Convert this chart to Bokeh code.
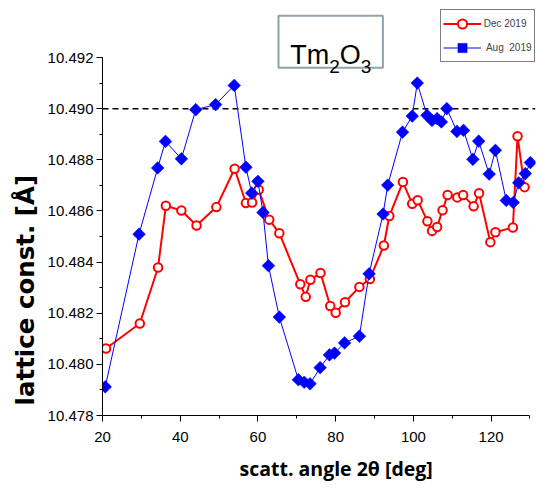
import numpy as np
from bokeh.plotting import figure
from bokeh.models import (Range1d, FixedTicker, PrintfTickFormatter, Span, Label,
                          BoxAnnotation, Legend, LegendItem, Title)
from bokeh.embed import file_html
from bokeh.resources import INLINE

# ---- data ----
dec_angle = [20.9, 29.6, 34.3, 36.3, 40.3, 44.2, 49.3, 54.0, 56.9, 58.5, 60.2, 62.9,
             65.5, 70.9, 72.3, 73.5, 76.1, 78.6, 80.0, 82.4, 86.1, 88.8, 92.4, 93.8,
             97.3, 99.7, 101.1, 103.6, 104.8, 106.1, 107.5, 108.8, 111.3, 112.8,
             115.5, 116.9, 119.8, 121.1, 125.6, 126.8, 128.6]
dec_lattice = [10.48062, 10.48160, 10.48379, 10.48620, 10.48602, 10.48543, 10.48615,
               10.48765, 10.48631, 10.48633, 10.48683, 10.48566, 10.48513, 10.48313,
               10.48264, 10.48331, 10.48357, 10.48228, 10.48202, 10.48243, 10.48303,
               10.48334, 10.48465, 10.48580, 10.48713, 10.48628, 10.48642, 10.48560,
               10.48522, 10.48537, 10.48603, 10.48662, 10.48653, 10.48662, 10.48618,
               10.48669, 10.48478, 10.48517, 10.48535, 10.48892, 10.48693]

aug_angle = [20.7, 29.4, 34.2, 36.2, 40.3, 44.0, 49.1, 53.9, 56.9, 58.4, 60.0, 61.3,
             62.7, 65.5, 70.4, 71.9, 73.4, 76.0, 78.4, 79.7, 82.3, 86.1, 88.6, 92.2,
             93.4, 97.2, 99.7, 101.0, 103.5, 104.8, 106.1, 107.2, 108.6, 111.2, 112.9,
             115.3, 116.8, 119.5, 121.1, 123.9, 125.7, 127.1, 128.8, 130.1]
aug_lattice = [10.47912, 10.48509, 10.48768, 10.48872, 10.48804, 10.48996, 10.49016,
               10.49091, 10.48771, 10.48670, 10.48716, 10.48594, 10.48386, 10.48185,
               10.47940, 10.47930, 10.47924, 10.47987, 10.48037, 10.48044, 10.48084,
               10.48110, 10.48354, 10.48588, 10.48701, 10.48908, 10.48971, 10.49100,
               10.48974, 10.48954, 10.48961, 10.48948, 10.49000, 10.48911, 10.48915,
               10.48802, 10.48873, 10.48744, 10.48837, 10.48641, 10.48633, 10.48710,
               10.48746, 10.48789]

x_major_ticks = [20, 40, 60, 80, 100, 120]
x_minor_ticks = [30, 50, 70, 90, 110, 130]
y_major_ticks = [10.478, 10.480, 10.482, 10.484, 10.486, 10.488, 10.490, 10.492]
y_minor_ticks = [10.479, 10.481, 10.483, 10.485, 10.487, 10.489, 10.491]
reference_level = 10.490

series_labels = ["Dec 2019", " Aug  2019"]
x_label = "scatt. angle 2\u03b8 [deg]"
y_label = "lattice const. [\u00c5]"

# ---- figure ----
p = figure(width=540, height=489, output_backend="svg", toolbar_location=None,
           x_range=Range1d(20, 131.42), y_range=Range1d(10.478, 10.49423),
           min_border_left=102, min_border_right=5, min_border_top=0,
           min_border_bottom=74)
p.outline_line_color = None
p.background_fill_color = "white"
p.border_fill_color = "white"
p.xgrid.grid_line_color = None
p.ygrid.grid_line_color = None

xa = p.xaxis[0]
xa.ticker = FixedTicker(ticks=x_major_ticks, minor_ticks=x_minor_ticks)
xa.bounds = (20, 130)
ya = p.yaxis[0]
ya.ticker = FixedTicker(ticks=y_major_ticks, minor_ticks=y_minor_ticks)
ya.formatter = PrintfTickFormatter(format="%.3f")
ya.bounds = (10.478, 10.492)
for ax in (xa, ya):
    ax.axis_line_color = "black"
    ax.axis_line_width = 1
    ax.major_tick_line_color = "black"
    ax.minor_tick_line_color = "black"
    ax.major_tick_in = 0
    ax.minor_tick_in = 0
    ax.major_tick_out = 6
    ax.minor_tick_out = 3
    ax.major_label_text_font = "Liberation Sans"
    ax.major_label_text_font_size = "15px"
    ax.major_label_text_color = "black"
xa.major_label_standoff = 10
ya.major_label_standoff = 3

span = Span(location=reference_level, dimension="width", line_color="black",
            line_dash="6 4", line_width=1.5, level="underlay")
p.add_layout(span)

red_line = p.line(dec_angle, dec_lattice, line_color="#ff0000", line_width=2)
red_pts = p.scatter(dec_angle, dec_lattice, marker="circle", size=8.5,
                    line_color="#ff0000", line_width=2, fill_color="white")
blue_line = p.line(aug_angle, aug_lattice, line_color="#0000ff", line_width=1)
blue_pts = p.scatter(aug_angle, aug_lattice, marker="square", angle=np.pi / 4,
                     size=9, line_color="#0000ff", line_width=0.5,
                     fill_color="#0000ff")

legend = Legend(items=[LegendItem(label=series_labels[0], renderers=[red_line, red_pts]),
                       LegendItem(label=series_labels[1], renderers=[blue_line, blue_pts])],
                location=(337.7, 353), padding=2, spacing=1, glyph_width=38,
                glyph_height=23, label_standoff=3, margin=0,
                label_text_font="Liberation Sans", label_text_font_size="10px",
                border_line_color="black", border_line_width=1,
                background_fill_color="white", background_fill_alpha=1)
p.add_layout(legend)

# title box with Tm2O3
box = BoxAnnotation(left=176, right=280.4, top=399.7, bottom=347.7,
                    left_units="screen", right_units="screen",
                    top_units="screen", bottom_units="screen",
                    line_color="#8fa3a8", line_width=2, line_alpha=1,
                    fill_color="white", fill_alpha=1)
p.add_layout(box)
parts = [("Tm", 187.7, 360.3, "27px"), ("2", 226.7, 348.7, "19px"),
         ("O", 237.3, 360.3, "27px"), ("3", 258.3, 348.7, "19px")]
for txt, sx, sy, fs in parts:
    p.add_layout(Label(x=sx, y=sy, x_units="screen", y_units="screen", text=txt,
                       text_font="Liberation Sans", text_font_size=fs,
                       text_color="black", text_align="left",
                       text_baseline="alphabetic"))

# axis titles as side titles
p.add_layout(Title(text=x_label, align="left", offset=137, standoff=16,
                   text_font="Open Sans", text_font_style="bold",
                   text_font_size="19.5px", text_color="black"), "below")
p.add_layout(Title(text=y_label, align="left", offset=10, standoff=9,
                   text_font="DejaVu Sans", text_font_style="bold",
                   text_font_size="24.5px", text_color="black"), "left")

open("out.html", "w").write(file_html(p, INLINE))
